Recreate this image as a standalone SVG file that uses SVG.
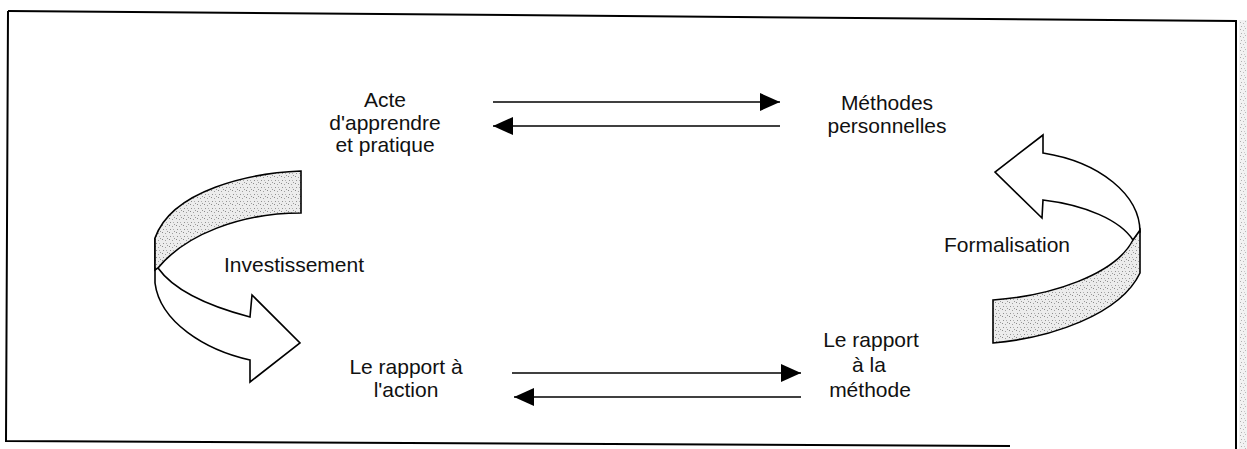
<svg xmlns="http://www.w3.org/2000/svg" width="1247" height="449" viewBox="0 0 1247 449">
<defs>
<pattern id="speck" width="7" height="7" patternUnits="userSpaceOnUse">
<rect width="7" height="7" fill="#ececec"/>
<rect x="1" y="1" width="1" height="1" fill="#8a8a8a"/>
<rect x="4" y="2" width="1" height="1" fill="#a0a0a0"/>
<rect x="2" y="5" width="1" height="1" fill="#909090"/>
<rect x="5" y="5" width="1" height="1" fill="#b0b0b0"/>
<rect x="6" y="0" width="1" height="1" fill="#9a9a9a"/>
</pattern>
<marker id="ah" viewBox="0 0 20 18" refX="20" refY="9" markerWidth="20" markerHeight="18" markerUnits="userSpaceOnUse" orient="auto">
<path d="M0,0 L20,9 L0,18 Z" fill="#000"/>
</marker>
</defs>
<style>
.t{font-family:"Liberation Sans",Arial,sans-serif;font-size:21px;fill:#111;text-anchor:middle}
.frame{fill:none;stroke:#000;stroke-width:2}
.conn{stroke:#000;stroke-width:1.5;fill:none;marker-end:url(#ah)}
.arr{fill:#fff;stroke:#000;stroke-width:1.6;stroke-linejoin:miter}
.band{fill:url(#speck);stroke:#000;stroke-width:1.6}
</style>
<rect width="1247" height="449" fill="#fff"/>
<rect x="1239" y="20" width="8" height="429" fill="url(#speck)" opacity="0.7"/>
<g id="frame">
<path class="frame" d="M8,11 L1236,21 L1236,449"/>
<path class="frame" d="M8,11 L6,441 L1010,446"/>
</g>
<g id="connectors">
<line class="conn" x1="493" y1="102" x2="780" y2="102"/>
<line class="conn" x1="780" y1="126" x2="493" y2="126"/>
<line class="conn" x1="512" y1="373" x2="801" y2="373"/>
<line class="conn" x1="801" y1="397" x2="514" y2="397"/>
</g>
<g id="investissement-arrow">
<path class="arr" d="M155,238 L155,283 C160,322 205,350 250,360 L250,382 L300,343 L252,295 L250,317 C212,307 175,292 158,268 Z"/>
<path class="band" d="M301,171 C250,173 172,190 155,238 L155,270 L158,268 C185,235 240,213 301,213 Z"/>
<text class="t" x="294" y="272">Investissement</text>
</g>
<g id="formalisation-arrow">
<path class="arr" d="M1140,232 C1140,195 1100,162 1043,153 L1043,135 L995,172 L1042,218 L1043,200 C1085,205 1120,220 1133,240 Z"/>
<path class="band" d="M993,300 C1050,296 1115,275 1133,240 L1140,230 L1140,273 C1120,315 1050,338 993,343 Z"/>
<text class="t" x="1007" y="252">Formalisation</text>
</g>
<g id="acte">
<text class="t" x="385" y="107">Acte</text>
<text class="t" x="385" y="130">d'apprendre</text>
<text class="t" x="385" y="152">et pratique</text>
</g>
<g id="methodes">
<text class="t" x="887" y="110">Méthodes</text>
<text class="t" x="887" y="133">personnelles</text>
</g>
<g id="rapport-action">
<text class="t" x="406" y="374">Le rapport à</text>
<text class="t" x="406" y="397">l'action</text>
</g>
<g id="rapport-methode">
<text class="t" x="871" y="347">Le rapport</text>
<text class="t" x="869" y="372">à la</text>
<text class="t" x="870" y="397">méthode</text>
</g>
</svg>
